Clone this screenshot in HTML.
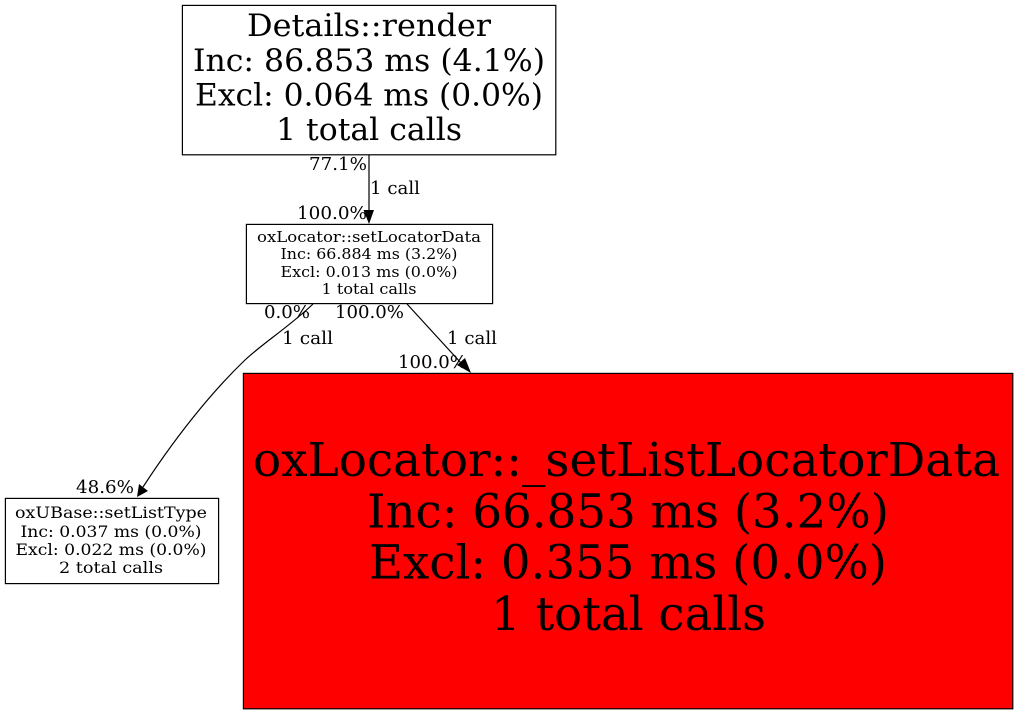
<!DOCTYPE html>
<html><head><meta charset="utf-8"><style>html,body{margin:0;padding:0;background:#fff}svg{display:block}text{font-family:"DejaVu Serif",serif;fill:#000;text-anchor:middle}.l{text-anchor:start;font-size:18px}</style></head>
<body>
<svg width="1017" height="715" viewBox="0 0 1017 715" xmlns="http://www.w3.org/2000/svg">
<rect x="0" y="0" width="1017" height="715" fill="#fff"/>
<rect x="182.4" y="5.4" width="373.4" height="149.4" fill="#fff" stroke="#000" stroke-width="1.2"/>
<g font-size="31">
<text x="369" y="36" textLength="244" lengthAdjust="spacingAndGlyphs">Details::render</text>
<text x="369" y="71" textLength="352" lengthAdjust="spacingAndGlyphs">Inc: 86.853 ms (4.1%)</text>
<text x="369" y="105.5" textLength="348" lengthAdjust="spacingAndGlyphs">Excl: 0.064 ms (0.0%)</text>
<text x="369" y="140" textLength="186" lengthAdjust="spacingAndGlyphs">1 total calls</text>
</g>
<rect x="246.4" y="224.4" width="246.2" height="79.2" fill="#fff" stroke="#000" stroke-width="1.2"/>
<g font-size="15" style="fill:#222">
<text x="369" y="242" textLength="224" lengthAdjust="spacingAndGlyphs">oxLocator::setLocatorData</text>
<text x="369" y="259" textLength="177" lengthAdjust="spacingAndGlyphs">Inc: 66.884 ms (3.2%)</text>
<text x="369" y="277" textLength="177" lengthAdjust="spacingAndGlyphs">Excl: 0.013 ms (0.0%)</text>
<text x="369" y="294" textLength="95" lengthAdjust="spacingAndGlyphs">1 total calls</text>
</g>
<rect x="5.4" y="498.4" width="213.2" height="85.2" fill="#fff" stroke="#000" stroke-width="1.2"/>
<g font-size="15.5">
<text x="111" y="518" textLength="192" lengthAdjust="spacingAndGlyphs">oxUBase::setListType</text>
<text x="111" y="537" textLength="181" lengthAdjust="spacingAndGlyphs">Inc: 0.037 ms (0.0%)</text>
<text x="111" y="555" textLength="191" lengthAdjust="spacingAndGlyphs">Excl: 0.022 ms (0.0%)</text>
<text x="111" y="573" textLength="104" lengthAdjust="spacingAndGlyphs">2 total calls</text>
</g>
<rect x="243.4" y="373.4" width="769.4" height="335.4" fill="#ff0000" stroke="#000" stroke-width="1.2"/>
<g font-size="47">
<text x="626.5" y="476" textLength="747" lengthAdjust="spacingAndGlyphs">oxLocator::_setListLocatorData</text>
<text x="628" y="527.5" textLength="522" lengthAdjust="spacingAndGlyphs">Inc: 66.853 ms (3.2%)</text>
<text x="628" y="578.5" textLength="518" lengthAdjust="spacingAndGlyphs">Excl: 0.355 ms (0.0%)</text>
<text x="628.5" y="630" textLength="275" lengthAdjust="spacingAndGlyphs">1 total calls</text>
</g>
<path d="M369 155V212" fill="none" stroke="#000" stroke-width="1.2"/>
<polygon points="363.5,210 374,210 369,224" fill="#000"/>
<path d="M313 304C290 326 262 344 245 360C221 383 184 424 143 487" fill="none" stroke="#000" stroke-width="1.2"/>
<polygon points="139,484 148,491 137,497" fill="#000"/>
<path d="M407 304L461 363" fill="none" stroke="#000" stroke-width="1.2"/>
<polygon points="457,365 465,358 471,373" fill="#000"/>
<text class="l" x="309" y="170" textLength="58" lengthAdjust="spacingAndGlyphs">77.1%</text>
<text class="l" x="370" y="194" textLength="50" lengthAdjust="spacingAndGlyphs">1 call</text>
<text class="l" x="297" y="219" textLength="70" lengthAdjust="spacingAndGlyphs">100.0%</text>
<text class="l" x="264" y="318" textLength="46" lengthAdjust="spacingAndGlyphs">0.0%</text>
<text class="l" x="335" y="318" textLength="69" lengthAdjust="spacingAndGlyphs">100.0%</text>
<text class="l" x="282" y="344" textLength="51" lengthAdjust="spacingAndGlyphs">1 call</text>
<text class="l" x="447" y="344" textLength="50" lengthAdjust="spacingAndGlyphs">1 call</text>
<text class="l" x="398" y="368" textLength="69" lengthAdjust="spacingAndGlyphs">100.0%</text>
<text class="l" x="76" y="493" textLength="58" lengthAdjust="spacingAndGlyphs">48.6%</text>
</svg>
</body></html>
